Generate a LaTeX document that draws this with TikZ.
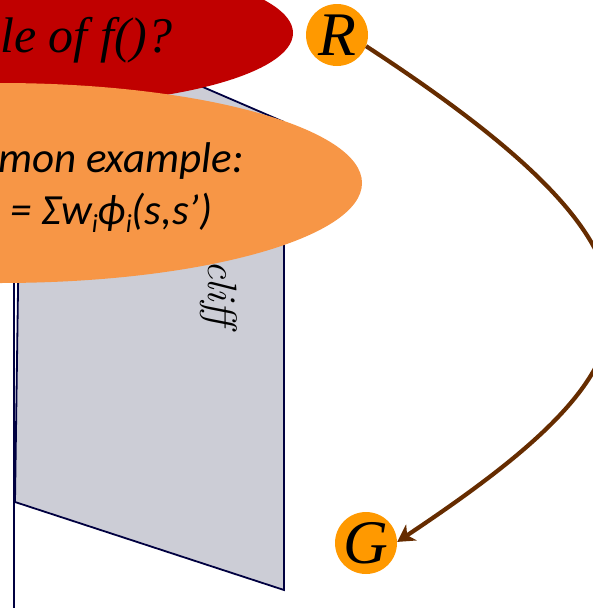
\documentclass[tikz,border=0pt]{standalone}
\usepackage{fontspec}
\usepackage{tikz}
\usetikzlibrary{arrows.meta}
\newfontfamily\timesf{Liberation Serif}
\newfontfamily\calibf{Carlito}
\definecolor{askred}{RGB}{192,0,0}
\definecolor{exorange}{RGB}{247,150,70}
\definecolor{ltrorange}{RGB}{255,153,0}
\definecolor{clifffill}{RGB}{204,205,214}
\definecolor{cliffedge}{RGB}{0,0,64}
\definecolor{flowbrown}{RGB}{102,44,0}
\newcommand\lowi[1]{\raisebox{-8pt}{\fontsize{26}{26}\selectfont #1}}

\begin{document}
\begin{tikzpicture}[x=1pt,y=-1pt,
  edge/.style={draw=cliffedge,line width=1.8pt},
  ltr/.style={circle,fill=ltrorange,minimum size=62pt,inner sep=0pt,font=\timesf\itshape\fontsize{62}{62}\selectfont},
  flow/.style={draw=flowbrown,line width=4.2pt,-{Stealth[length=17pt,width=19pt,inset=5pt]}},
  calib/.style={anchor=base west,inner sep=0pt,font=\calibf\itshape\fontsize{43}{50}\selectfont}]
\path[use as bounding box] (0,0) rectangle (593,608);
\begin{scope}
\clip (0,0) rectangle (593,608);
\fill[clifffill] (22,9)--(284,122)--(284,590)--(15,502)--cycle;
\draw[edge] (22,9)--(284,122)--(284,590)--(15,502)--cycle;
\draw[edge] (14,0)--(14,608);
\node[rotate=-90,anchor=base west,inner sep=0pt,font=\itshape\fontsize{41}{41}\selectfont] (cliff) at (208,260) {cliff};
\fill[askred] (33,33) ellipse[x radius=260,y radius=72];
\node[anchor=base west,inner sep=0pt,font=\timesf\itshape\fontsize{50}{50}\selectfont] (ask) at (0,52) {le of f()?};
\fill[exorange] (0,183) ellipse[x radius=362,y radius=100];
\node[calib] (exA) at (-2,172) {mon example:};
\node[calib] (exB) at (10,224) {= Σw\lowi{i}ϕ\lowi{i}(s,s’)};
\node[ltr] (R) at (337,35) {R};
\node[ltr] (G) at (366,543) {G};
\draw[flow] (R.-21) .. controls +(340,222) and +(270,-180) .. (G.2);
\end{scope}
\end{tikzpicture}
\end{document}
